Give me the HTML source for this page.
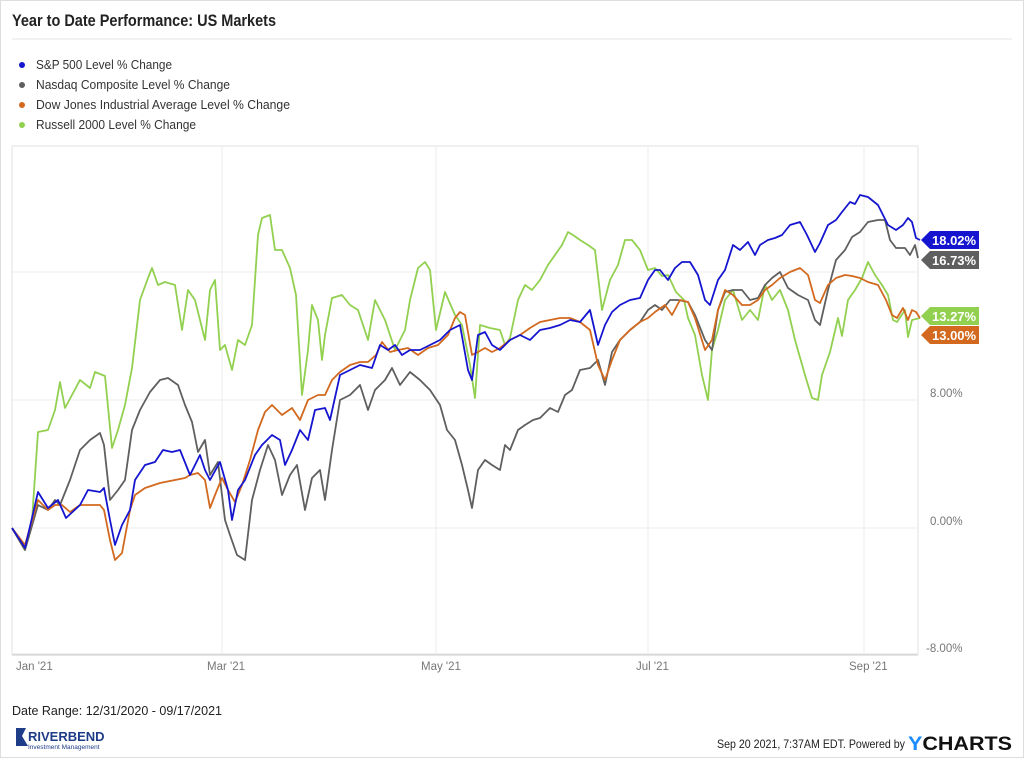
<!DOCTYPE html>
<html><head><style>
body{margin:0;background:#fff;font-family:"Liberation Sans",sans-serif;}
.card{position:absolute;left:0;top:0;width:1022px;height:756px;border:1px solid #ddd;}
</style></head><body>
<div class="card"></div>
<svg width="1024" height="758" style="position:absolute;left:0;top:0" font-family="Liberation Sans, sans-serif">
<text x="12" y="26" font-size="17" font-weight="bold" fill="#222" textLength="264" lengthAdjust="spacingAndGlyphs">Year to Date Performance: US Markets</text>
<line x1="12" y1="39" x2="1012" y2="39" stroke="#eee" stroke-width="1.5"/>
<g font-size="12.5" fill="#333">
<circle cx="22" cy="65" r="3" fill="#1515d0"/><text x="36" y="69" textLength="136" lengthAdjust="spacingAndGlyphs">S&amp;P 500 Level % Change</text>
<circle cx="22" cy="85" r="3" fill="#5f5f5f"/><text x="36" y="89" textLength="194" lengthAdjust="spacingAndGlyphs">Nasdaq Composite Level % Change</text>
<circle cx="22" cy="105" r="3" fill="#d2691e"/><text x="36" y="109" textLength="254" lengthAdjust="spacingAndGlyphs">Dow Jones Industrial Average Level % Change</text>
<circle cx="22" cy="125" r="3" fill="#92d050"/><text x="36" y="129" textLength="160" lengthAdjust="spacingAndGlyphs">Russell 2000 Level % Change</text>
</g>
<rect x="12" y="146" width="906" height="508" fill="none" stroke="#e2e2e2"/>
<line x1="12" y1="655" x2="918" y2="655" stroke="#ccc"/>
<g stroke="#ececec">
<line x1="12" y1="272" x2="918" y2="272"/><line x1="12" y1="400" x2="918" y2="400"/><line x1="12" y1="528" x2="918" y2="528"/>
<line x1="222" y1="146" x2="222" y2="654"/><line x1="436" y1="146" x2="436" y2="654"/><line x1="648" y1="146" x2="648" y2="654"/><line x1="864" y1="146" x2="864" y2="654"/>
</g>
<g font-size="11.5" fill="#777">
<text x="930" y="397">8.00%</text><text x="930" y="525">0.00%</text><text x="926" y="652">-8.00%</text>
<text x="16" y="670">Jan '21</text><text x="207" y="670">Mar '21</text><text x="421" y="670">May '21</text><text x="636" y="670">Jul '21</text><text x="849" y="670">Sep '21</text>
</g>
<g fill="none" stroke-width="1.8" stroke-linejoin="round">
<polyline stroke="#92d050" points="12,528 25,550 32,520 38,432 48,430 55,410 60,382 65,408 72,395 80,380 90,388 95,372 105,376 112,448 118,430 125,405 132,368 140,300 148,278 152,268 158,285 165,282 175,285 182,330 188,290 195,300 205,340 210,290 215,280 220,350 225,345 232,370 238,340 245,345 252,325 258,235 262,218 270,215 275,250 282,250 290,268 296,295 302,395 308,350 312,305 318,320 322,360 325,335 332,298 342,295 350,305 358,310 368,340 375,300 385,320 395,350 405,330 410,300 418,268 425,262 430,270 436,330 445,292 455,315 462,325 470,365 475,398 480,325 490,328 500,330 505,345 510,338 518,300 525,285 532,290 540,280 548,265 555,255 562,245 568,232 573,235 580,240 588,245 595,250 602,310 610,280 618,265 625,240 632,240 640,250 648,270 655,268 662,276 668,275 676,292 684,300 688,318 695,335 702,375 708,400 712,350 718,330 725,300 733,290 742,320 750,310 758,320 765,285 772,300 780,290 788,310 795,340 805,375 812,398 818,400 822,375 830,352 838,318 842,336 848,300 855,290 862,278 868,262 875,275 882,285 888,295 893,320 897,322 905,310 908,337 912,320 920,318"/>
<polyline stroke="#5f5f5f" points="12,528 25,550 38,505 48,510 55,500 60,505 70,480 80,450 90,440 100,433 104,445 110,500 118,490 125,480 132,430 140,410 150,392 160,380 168,378 178,385 185,405 192,422 198,452 205,440 210,475 218,462 225,520 230,535 237,555 245,560 252,500 260,470 268,445 275,460 282,495 290,475 297,465 305,510 312,478 320,470 325,500 332,450 340,400 350,395 360,385 368,410 375,390 385,380 392,368 400,385 410,372 420,380 430,390 440,405 447,430 455,440 462,465 468,490 472,508 478,470 485,460 492,465 500,470 505,445 510,450 518,430 525,425 533,420 540,418 550,408 558,412 565,395 572,390 580,370 590,368 598,360 605,385 612,352 620,340 630,330 640,322 648,310 655,305 662,310 670,300 678,300 688,302 695,315 705,340 712,350 718,310 725,292 733,290 742,290 750,300 758,298 765,285 772,278 780,272 788,288 798,295 808,300 815,320 820,325 828,290 836,260 845,250 852,237 860,232 868,222 878,220 885,220 890,240 896,248 905,248 910,255 915,245 918,258"/>
<polyline stroke="#d2691e" points="12,528 25,545 38,500 48,510 55,505 62,505 70,512 80,505 90,505 100,505 104,510 110,540 115,560 122,553 130,510 135,495 145,488 160,483 175,480 185,478 190,475 198,473 205,480 210,508 215,495 222,478 228,490 235,502 242,485 250,460 258,430 265,412 272,405 282,415 292,408 300,420 308,400 318,395 325,395 332,380 340,372 350,365 360,362 368,362 376,355 382,342 390,352 398,350 408,348 418,355 428,348 438,345 448,335 455,318 460,312 465,315 472,355 478,352 485,348 492,352 500,348 510,340 520,335 530,328 540,322 550,320 560,318 570,318 580,322 590,330 598,365 605,380 612,360 620,340 630,330 640,322 648,318 655,312 665,305 672,315 680,300 688,302 695,318 705,350 712,340 718,310 725,290 733,295 742,305 750,305 758,300 765,290 772,285 780,278 790,272 800,268 808,275 815,300 820,303 828,285 836,278 845,275 852,276 860,278 868,282 878,285 886,300 892,315 897,318 903,308 908,320 912,310 916,312 920,318"/>
<polyline stroke="#1515d0" points="12,528 25,548 38,492 48,508 58,500 66,518 80,505 88,490 100,492 104,488 110,520 115,545 122,525 130,510 135,480 145,465 155,462 163,450 172,452 180,450 190,475 200,455 205,470 210,480 220,462 228,490 232,520 238,490 245,480 255,455 262,445 272,435 280,440 285,465 292,450 300,430 308,440 315,410 325,408 330,420 340,375 350,370 360,365 372,368 380,345 388,350 395,345 402,355 410,350 420,350 430,345 440,340 450,330 460,325 468,370 472,380 478,335 485,332 492,345 500,350 510,340 520,335 530,340 540,330 550,328 560,325 570,320 580,322 590,310 598,345 605,325 612,312 620,305 630,300 640,298 648,280 655,270 660,270 668,280 675,268 682,262 690,262 698,275 705,300 710,305 718,280 725,270 733,245 740,250 748,242 755,255 760,245 768,240 775,238 782,235 790,225 800,222 807,235 815,252 820,243 828,225 836,220 842,212 850,202 855,204 860,195 868,197 878,205 888,225 896,230 903,225 908,218 912,222 916,238 920,240"/>
</g>
<g font-size="13" fill="#fff" font-weight="bold">
<path d="M921,240 L930,231 L979,231 L979,249 L930,249Z" fill="#1515d0"/><text x="932" y="245">18.02%</text>
<path d="M921,260 L930,251 L979,251 L979,269 L930,269Z" fill="#5f5f5f"/><text x="932" y="265">16.73%</text>
<path d="M921,316 L930,307 L979,307 L979,325 L930,325Z" fill="#92d050"/><text x="932" y="321">13.27%</text>
<path d="M921,335 L930,326 L979,326 L979,344 L930,344Z" fill="#d2691e"/><text x="932" y="340">13.00%</text>
</g>
<text x="12" y="715" font-size="12.5" fill="#222" textLength="210" lengthAdjust="spacingAndGlyphs">Date Range: 12/31/2020 - 09/17/2021</text>
<path d="M16,728 L26,728 L22,736 L28,746 L16,746Z" fill="#1f3c88"/>
<text x="28" y="741" font-size="13" font-weight="bold" fill="#1f3c88">RIVERBEND</text>
<text x="28" y="749" font-size="6.5" fill="#1f3c88">Investment Management</text>
<text x="717" y="748" font-size="12" fill="#222" textLength="188" lengthAdjust="spacingAndGlyphs">Sep 20 2021, 7:37AM EDT.  Powered by</text>
<text x="908" y="750" font-size="19" font-weight="bold" fill="#111" textLength="104" lengthAdjust="spacingAndGlyphs"><tspan fill="#1a8cff">Y</tspan>CHARTS</text>
</svg>
</body></html>
